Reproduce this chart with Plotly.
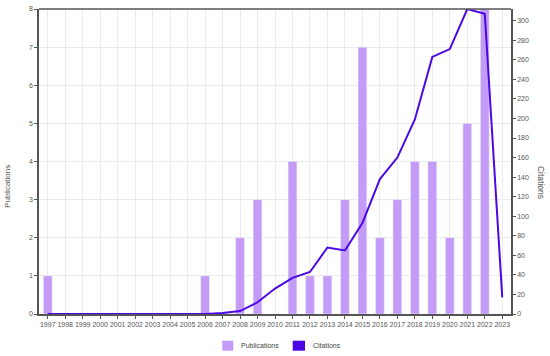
import plotly.graph_objects as go

years = [str(y) for y in range(1997, 2024)]
publications = [1, 0, 0, 0, 0, 0, 0, 0, 0, 1, 0, 2, 3, 0, 4, 1, 1, 3, 7, 2, 3, 4, 4, 2, 5, 8, 0]
citations = [0, 0, 0, 0, 0, 0, 0, 0, 0, 0, 1, 3, 12, 26, 37, 43, 68, 65, 93, 138, 160, 199, 263, 271, 312, 307, 17]

bar_color = "#c49cf7"
line_color = "#4c08e4"
font_fam = "Liberation Sans, Arial, sans-serif"
tick_font = dict(family=font_fam, size=7, color="#555555")
legend_font = dict(family=font_fam, size=7, color="#444444")

fig = go.Figure()
fig.add_trace(go.Bar(x=years, y=publications, marker_color=bar_color, width=0.5,
                     name="Publications", showlegend=False))
fig.add_trace(go.Scatter(x=years, y=citations, yaxis="y2", mode="lines",
                         line=dict(color=line_color, width=2), name="Citations",
                         showlegend=False))

fig.update_layout(
    width=550, height=356,
    margin=dict(l=39, r=39, t=9, b=42, autoexpand=False),
    paper_bgcolor="white", plot_bgcolor="white",
    showlegend=False,
    xaxis=dict(type="category", range=[-0.5, 26.5], tickfont=tick_font,
               showgrid=True, gridcolor="#ebebeb", gridwidth=1, automargin=False,
               showline=True, linecolor="#555555", linewidth=1.5,
               ticks="outside", ticklen=3, tickcolor="#555555",
               tickangle=0, mirror=False),
    yaxis=dict(range=[0, 8], dtick=1, tickfont=tick_font, automargin=False,
               showgrid=True, gridcolor="#ebebeb", zeroline=False,
               showline=True, linecolor="#555555", linewidth=1.5,
               ticks="outside", ticklen=3, tickcolor="#555555"),
    yaxis2=dict(range=[0, 312], dtick=20, overlaying="y", side="right",
                tickfont=tick_font, showgrid=False, zeroline=False, automargin=False,
                showline=True, linecolor="#555555", linewidth=1.5,
                ticks="outside", ticklen=3, tickcolor="#555555"),
    shapes=[
        dict(type="line", xref="paper", yref="paper", x0=0, x1=1, y0=1, y1=1,
             line=dict(color="#555555", width=1.5)),
        # legend swatches
        dict(type="rect", xref="paper", yref="paper", x0=0.3883, x1=0.4117,
             y0=-0.1203, y1=-0.0875, fillcolor=bar_color, line=dict(width=0)),
        dict(type="rect", xref="paper", yref="paper", x0=0.5375, x1=0.5636,
             y0=-0.1203, y1=-0.0875, fillcolor=line_color, line=dict(width=0)),
    ],
    annotations=[
        dict(text="Citations", xref="paper", yref="paper", x=1.0636, y=0.433,
             xanchor="center", yanchor="middle",
             showarrow=False, textangle=90,
             font=dict(family=font_fam, size=8.5, color="#555555")),
        dict(text="Publications", xref="paper", yref="paper", x=-0.0657, y=0.42,
             xanchor="center", yanchor="middle",
             showarrow=False, textangle=-90,
             font=dict(family=font_fam, size=8, color="#555555")),
        dict(text="Publications", xref="paper", yref="paper", x=0.4244, y=-0.104,
             xanchor="left", yanchor="middle", showarrow=False, font=legend_font),
        dict(text="Citations", xref="paper", yref="paper", x=0.5763, y=-0.104,
             xanchor="left", yanchor="middle", showarrow=False, font=legend_font),
    ],
)

fig.write_html("out.html", config={"displayModeBar": False},
               post_script="document.body.style.margin='0';document.body.style.overflow='hidden';")
